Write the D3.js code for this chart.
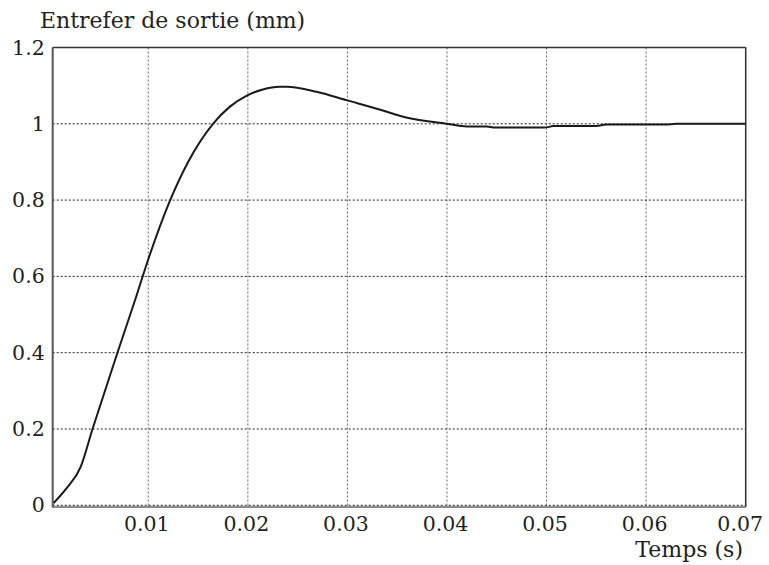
<!DOCTYPE html>
<html>
<head>
<meta charset="utf-8">
<script src="https://cdn.jsdelivr.net/npm/d3@7"></script>
<style>
  html, body { margin: 0; padding: 0; background: #fff; }
  svg { display: block; }
  text { font-family: "DejaVu Serif", serif; fill: #222; }
</style>
</head>
<body>
<svg id="chart" width="769" height="565"></svg>
<script>
// Data
const time = [0.0005, 0.0018, 0.0032, 0.0044, 0.0069, 0.0087, 0.01, 0.0122, 0.014, 0.0165, 0.0182, 0.0199, 0.0215, 0.0232, 0.0239, 0.0269, 0.0299, 0.0333, 0.0358, 0.04, 0.042, 0.044, 0.0448, 0.0498, 0.0507, 0.055, 0.056, 0.062, 0.063, 0.07];
const gap  = [0.006, 0.045, 0.10, 0.20, 0.40, 0.54, 0.645, 0.80, 0.90, 1.0, 1.045, 1.074, 1.090, 1.097, 1.097, 1.084, 1.062, 1.037, 1.017, 1.0, 0.993, 0.993, 0.99, 0.99, 0.994, 0.994, 0.998, 0.998, 1.0, 1.0];
const xTicks = [0.01, 0.02, 0.03, 0.04, 0.05, 0.06, 0.07];
const xTickLabels = ["0.01", "0.02", "0.03", "0.04", "0.05", "0.06", "0.07"];
const yTicks = [0, 0.2, 0.4, 0.6, 0.8, 1, 1.2];
const yTickLabels = ["0", "0.2", "0.4", "0.6", "0.8", "1", "1.2"];
const yTitle = "Entrefer de sortie (mm)";
const xTitle = "Temps (s)";

const svg = d3.select("#chart");
const L = 52.7, R = 745.7, T = 47.5, B = 507;

const x = d3.scaleLinear().domain([0.0004, 0.07]).range([L, R]);
const y = d3.scaleLinear().domain([-0.0045, 1.2]).range([B, T]);

// grid
const grid = svg.append("g");
grid.selectAll("line.v").data(xTicks).join("line")
  .attr("x1", d => x(d)).attr("x2", d => x(d))
  .attr("y1", T).attr("y2", B)
  .attr("stroke", "#666").attr("stroke-width", 1)
  .attr("stroke-dasharray", "2,2");
grid.selectAll("line.h").data(yTicks).join("line")
  .attr("x1", L).attr("x2", R)
  .attr("y1", d => y(d)).attr("y2", d => y(d))
  .attr("stroke", "#222").attr("stroke-width", 1)
  .attr("stroke-dasharray", "2,2");

// frame
svg.append("line").attr("x1", L).attr("x2", R).attr("y1", T).attr("y2", T).attr("stroke", "#333").attr("stroke-width", 1.5);
svg.append("line").attr("x1", R).attr("x2", R).attr("y1", T).attr("y2", B).attr("stroke", "#333").attr("stroke-width", 1.5);
svg.append("line").attr("x1", L).attr("x2", L).attr("y1", T).attr("y2", B + 0.5).attr("stroke", "#555").attr("stroke-width", 2);
svg.append("line").attr("x1", L).attr("x2", R).attr("y1", B).attr("y2", B).attr("stroke", "#666").attr("stroke-width", 1.5);

// axes (labels only)
const xAxis = d3.axisBottom(x).tickValues(xTicks).tickSize(0).tickPadding(9)
  .tickFormat((d, i) => xTickLabels[i]);
const gx = svg.append("g").attr("transform", `translate(0,${B})`).call(xAxis);
gx.select(".domain").remove();
gx.selectAll("text").attr("font-family", "DejaVu Serif").attr("font-size", 20.5).attr("fill", "#222")
  .attr("dx", (d, i) => i === xTicks.length - 1 ? -6 : -2);

const yAxis = d3.axisLeft(y).tickValues(yTicks).tickSize(0).tickPadding(8)
  .tickFormat((d, i) => yTickLabels[i]);
const gy = svg.append("g").attr("transform", `translate(${L},0)`).call(yAxis);
gy.select(".domain").remove();
gy.selectAll("text").attr("font-family", "DejaVu Serif").attr("font-size", 20.5).attr("fill", "#222");

// titles
svg.append("text").attr("x", 40).attr("y", 28).attr("font-size", 22).text(yTitle);
svg.append("text").attr("x", 743).attr("y", 557).attr("text-anchor", "end").attr("font-size", 22).text(xTitle);

// curve
const line = d3.line().x((d, i) => x(time[i])).y(d => y(d)).curve(d3.curveMonotoneX);
svg.append("path").datum(gap).attr("d", line)
  .attr("fill", "none").attr("stroke", "#1a1a1a").attr("stroke-width", 2);
</script>
</body>
</html>
